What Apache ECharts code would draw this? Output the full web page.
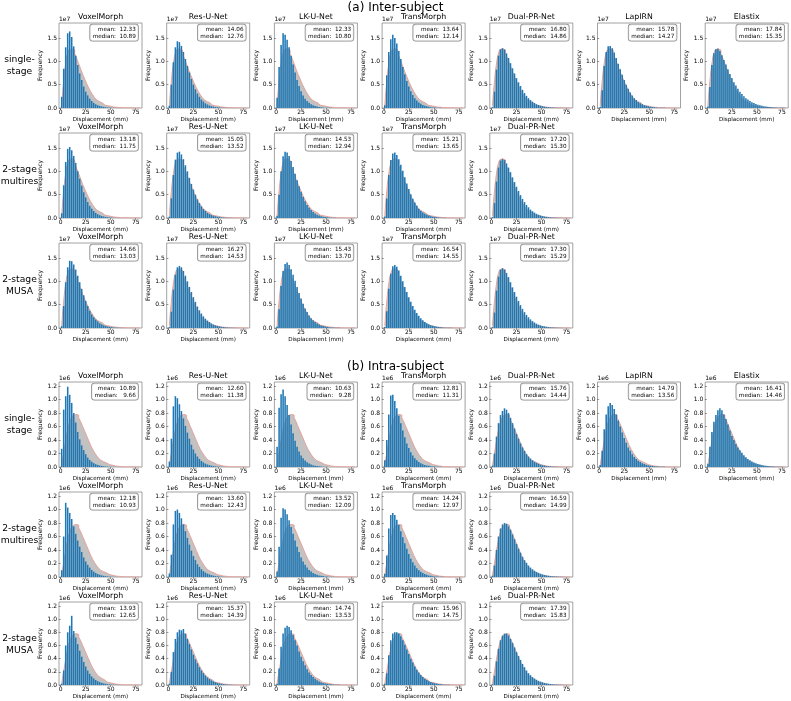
<!DOCTYPE html>
<html><head><meta charset="utf-8">
<script src="https://cdn.jsdelivr.net/npm/echarts@6/dist/echarts.min.js"></script>
<style>html,body{margin:0;padding:0;background:#fff}#c{width:791px;height:701px}</style>
</head><body><div id="c"></div><script>
// ---------------- DATA ----------------
const METHODS_SINGLE = ['VoxelMorph','Res-U-Net','LK-U-Net','TransMorph','Dual-PR-Net','LapIRN','Elastix'];
const METHODS_2STAGE = ['VoxelMorph','Res-U-Net','LK-U-Net','TransMorph','Dual-PR-Net'];
const ROW_LABELS = ['single-\nstage','2-stage\nmultires','2-stage\nMUSA'];
const SECTION_TITLES = ['(a) Inter-subject','(b) Intra-subject'];
const BIN_CENTERS = [1,3,5,7,9,11,13,15,17,19,21,23,25,27,29,31,33,35,37,39,41,43,45,47,49,51,53,55,57,59,61,63,65,67,69,71,73,75,77,79];
const X_TICKS = [0,25,50,75];
const INTER_Y_TICKS = [0,0.5,1.0,1.5];
const INTRA_Y_TICKS = [0,0.2,0.4,0.6,0.8,1.0,1.2];

// stats
const interSingleMean   = [12.33,14.06,12.33,13.64,16.80,15.78,17.84];
const interSingleMedian = [10.89,12.76,10.80,12.14,14.86,14.27,15.35];
const interMultiresMean   = [13.18,15.05,14.53,15.21,17.20];
const interMultiresMedian = [11.75,13.52,12.94,13.65,15.30];
const interMusaMean   = [14.66,16.27,15.43,16.54,17.30];
const interMusaMedian = [13.03,14.53,13.70,14.55,15.29];
const intraSingleMean   = [10.89,12.60,10.63,12.81,15.76,14.79,16.41];
const intraSingleMedian = [9.66,11.38,9.28,11.31,14.44,13.56,14.46];
const intraMultiresMean   = [12.18,13.60,13.52,14.24,16.59];
const intraMultiresMedian = [10.93,12.43,12.09,12.97,14.99];
const intraMusaMean   = [13.93,15.37,14.74,15.96,17.39];
const intraMusaMedian = [12.65,14.39,13.53,14.75,15.83];

// reference (grey) histograms, units 1e7 / 1e6
const interReference = [0.05,0.35,0.8,1.1,1.24,1.27,1.24,1.16,1.06,0.95,0.83,0.72,0.62,0.52,0.43,0.35,0.28,0.22,0.17,0.135,0.105,0.08,0.062,0.048,0.037,0.028,0.021,0.016,0.012,0.009,0.007,0.005,0.004,0.003,0.002,0.0015,0.001,0.0007,0.0005,0.0003];
const intraReference = [0.02,0.12,0.3,0.48,0.62,0.71,0.76,0.78,0.77,0.73,0.67,0.6,0.53,0.46,0.39,0.32,0.26,0.21,0.165,0.13,0.1,0.078,0.06,0.046,0.035,0.026,0.019,0.014,0.01,0.007,0.005,0.0035,0.0025,0.0017,0.0012,0.0008,0.0005,0.0003,0.0002,0.0001];

// inter-subject, single-stage (x1e7)
const interSingleVoxelMorph = [0.24,0.84,1.3,1.6,1.64,1.52,1.32,1.12,0.92,0.74,0.6,0.46,0.35,0.27,0.2,0.15,0.11,0.08,0.06,0.045,0.033,0.024,0.017,0.012,0.008,0.006,0.004,0.003,0.002,0.0015,0.001];
const interSingleResUNet = [0.05,0.5,0.98,1.3,1.43,1.41,1.33,1.2,1.05,0.9,0.76,0.62,0.5,0.4,0.31,0.24,0.18,0.14,0.1,0.075,0.055,0.04,0.03,0.022,0.016,0.011,0.008,0.006,0.004,0.003,0.002,0.0015,0.001];
const interSingleLKUNet = [0.22,0.88,1.35,1.6,1.57,1.46,1.3,1.12,0.93,0.76,0.6,0.47,0.36,0.27,0.2,0.15,0.11,0.08,0.06,0.044,0.032,0.023,0.016,0.011,0.008,0.006,0.004,0.003,0.002,0.001];
const interSingleTransMorph = [0.06,0.7,1.2,1.47,1.57,1.5,1.38,1.22,1.05,0.88,0.72,0.58,0.46,0.36,0.28,0.21,0.16,0.12,0.09,0.066,0.048,0.035,0.025,0.018,0.013,0.009,0.006,0.004,0.003,0.002,0.001];
const interSingleDualPRNet = [0.02,0.35,0.82,1.12,1.26,1.28,1.25,1.17,1.07,0.96,0.85,0.74,0.64,0.55,0.47,0.39,0.32,0.26,0.21,0.17,0.135,0.105,0.082,0.064,0.05,0.038,0.029,0.022,0.017,0.013,0.01,0.007,0.005,0.004,0.003,0.002,0.0015,0.001,0.0007,0.0005];
const interSingleLapIRN = [0.02,0.38,0.9,1.2,1.32,1.33,1.28,1.19,1.07,0.95,0.83,0.71,0.6,0.5,0.41,0.33,0.27,0.21,0.17,0.13,0.1,0.078,0.06,0.046,0.035,0.026,0.02,0.015,0.011,0.008,0.006,0.004,0.003,0.002,0.0015,0.001];
const interSingleElastix = [0.03,0.45,0.92,1.17,1.26,1.27,1.22,1.13,1.03,0.93,0.83,0.73,0.64,0.55,0.48,0.41,0.35,0.3,0.25,0.21,0.18,0.15,0.125,0.105,0.087,0.072,0.06,0.049,0.04,0.033,0.027,0.021,0.017,0.013,0.01,0.008,0.006,0.004,0.003,0.002];
// inter-subject, 2-stage multires
const interMultiresVoxelMorph = [0.1,0.7,1.2,1.48,1.52,1.45,1.33,1.18,1.0,0.84,0.69,0.55,0.44,0.34,0.26,0.2,0.15,0.11,0.08,0.06,0.044,0.032,0.023,0.016,0.011,0.008,0.005,0.003,0.002,0.001];
const interMultiresResUNet = [0.03,0.42,0.92,1.25,1.4,1.42,1.36,1.26,1.13,1.0,0.86,0.73,0.61,0.5,0.4,0.32,0.25,0.19,0.15,0.11,0.085,0.064,0.048,0.036,0.027,0.02,0.014,0.01,0.007,0.005,0.003,0.002,0.001];
const interMultiresLKUNet = [0.05,0.5,1.0,1.32,1.42,1.4,1.33,1.22,1.09,0.95,0.81,0.68,0.56,0.45,0.36,0.28,0.22,0.17,0.13,0.095,0.07,0.052,0.038,0.028,0.02,0.014,0.01,0.007,0.005,0.003,0.002,0.001];
const interMultiresTransMorph = [0.03,0.42,0.92,1.24,1.38,1.4,1.35,1.26,1.14,1.01,0.87,0.74,0.62,0.51,0.41,0.33,0.26,0.2,0.155,0.12,0.09,0.068,0.051,0.038,0.028,0.02,0.015,0.011,0.008,0.005,0.003,0.002,0.001];
const interMultiresDualPRNet = [0.02,0.32,0.78,1.08,1.23,1.26,1.24,1.17,1.08,0.98,0.87,0.77,0.67,0.58,0.49,0.41,0.34,0.28,0.23,0.18,0.145,0.115,0.09,0.07,0.054,0.042,0.032,0.024,0.018,0.014,0.01,0.008,0.006,0.004,0.003,0.002,0.0015,0.001,0.0007,0.0005];
// inter-subject, 2-stage MUSA
const interMusaVoxelMorph = [0.04,0.47,0.98,1.3,1.44,1.43,1.36,1.25,1.12,0.98,0.84,0.7,0.58,0.47,0.37,0.29,0.23,0.18,0.14,0.1,0.078,0.058,0.043,0.032,0.023,0.017,0.012,0.009,0.006,0.004,0.003,0.002,0.001];
const interMusaResUNet = [0.02,0.35,0.82,1.14,1.3,1.33,1.3,1.22,1.12,1.0,0.88,0.77,0.66,0.56,0.46,0.38,0.31,0.25,0.2,0.16,0.125,0.097,0.075,0.058,0.044,0.033,0.025,0.019,0.014,0.01,0.007,0.005,0.004,0.003,0.002,0.001];
const interMusaLKUNet = [0.03,0.4,0.9,1.22,1.37,1.4,1.35,1.26,1.14,1.01,0.88,0.75,0.63,0.52,0.42,0.34,0.27,0.21,0.165,0.128,0.098,0.074,0.056,0.042,0.031,0.023,0.017,0.012,0.009,0.006,0.004,0.003,0.002,0.001];
const interMusaTransMorph = [0.02,0.36,0.84,1.16,1.32,1.35,1.31,1.23,1.12,1.0,0.88,0.77,0.66,0.56,0.47,0.39,0.32,0.26,0.21,0.165,0.13,0.1,0.078,0.06,0.046,0.035,0.026,0.02,0.015,0.011,0.008,0.006,0.004,0.003,0.002,0.001];
const interMusaDualPRNet = [0.02,0.33,0.8,1.1,1.25,1.28,1.25,1.18,1.09,0.98,0.87,0.77,0.67,0.58,0.49,0.41,0.34,0.28,0.23,0.185,0.148,0.117,0.092,0.072,0.056,0.043,0.033,0.025,0.019,0.014,0.011,0.008,0.006,0.004,0.003,0.002,0.0015,0.001,0.0007,0.0005];

// intra-subject, single-stage (x1e6)
const intraSingleVoxelMorph = [0.27,0.85,1.05,1.19,1.07,0.95,0.8,0.66,0.52,0.41,0.32,0.25,0.19,0.14,0.105,0.078,0.057,0.042,0.031,0.022,0.016,0.011,0.008,0.006,0.004,0.003,0.002,0.001];
const intraSingleResUNet = [0.08,0.42,0.9,1.05,1.02,0.93,0.83,0.72,0.61,0.51,0.42,0.33,0.26,0.2,0.155,0.12,0.09,0.068,0.05,0.037,0.027,0.02,0.014,0.01,0.007,0.005,0.003,0.002,0.001];
const intraSingleLKUNet = [0.3,0.88,1.08,1.15,1.05,0.92,0.77,0.63,0.5,0.39,0.3,0.23,0.17,0.13,0.095,0.07,0.051,0.037,0.027,0.019,0.014,0.01,0.007,0.005,0.003,0.002,0.001];
const intraSingleTransMorph = [0.1,0.4,0.78,1.06,1.07,0.98,0.87,0.76,0.65,0.54,0.44,0.35,0.28,0.22,0.17,0.13,0.1,0.075,0.056,0.042,0.031,0.023,0.017,0.012,0.009,0.006,0.004,0.003,0.002,0.001];
const intraSingleDualPRNet = [0.02,0.2,0.45,0.65,0.77,0.83,0.87,0.85,0.8,0.73,0.65,0.57,0.49,0.42,0.35,0.29,0.24,0.19,0.155,0.125,0.1,0.078,0.06,0.047,0.036,0.027,0.02,0.015,0.011,0.008,0.006,0.004,0.003,0.002,0.001];
const intraSingleLapIRN = [0.03,0.24,0.56,0.78,0.9,0.95,0.92,0.86,0.78,0.69,0.6,0.51,0.43,0.36,0.29,0.24,0.19,0.15,0.12,0.094,0.073,0.057,0.044,0.034,0.026,0.02,0.015,0.011,0.008,0.006,0.004,0.003,0.002,0.001];
const intraSingleElastix = [0.05,0.3,0.52,0.67,0.77,0.84,0.87,0.84,0.78,0.71,0.63,0.54,0.46,0.4,0.34,0.29,0.25,0.21,0.175,0.145,0.12,0.1,0.083,0.068,0.056,0.045,0.036,0.029,0.023,0.018,0.014,0.011,0.009,0.007,0.005,0.004,0.003,0.002,0.001,0.001];
// intra-subject, 2-stage multires
const intraMultiresVoxelMorph = [0.1,0.6,1.1,1.03,0.95,0.86,0.75,0.64,0.54,0.45,0.37,0.29,0.23,0.18,0.14,0.105,0.08,0.06,0.045,0.033,0.024,0.017,0.012,0.009,0.006,0.004,0.003,0.002,0.001];
const intraMultiresResUNet = [0.05,0.33,0.78,0.98,1.0,0.95,0.87,0.78,0.68,0.58,0.48,0.39,0.31,0.25,0.19,0.15,0.115,0.087,0.066,0.05,0.037,0.027,0.02,0.014,0.01,0.007,0.005,0.003,0.002,0.001];
const intraMultiresLKUNet = [0.08,0.45,0.88,1.02,1.0,0.93,0.84,0.74,0.64,0.54,0.45,0.37,0.29,0.23,0.18,0.14,0.105,0.08,0.06,0.045,0.033,0.024,0.018,0.013,0.009,0.006,0.004,0.003,0.002,0.001];
const intraMultiresTransMorph = [0.05,0.32,0.72,0.92,0.95,0.92,0.85,0.77,0.68,0.59,0.5,0.42,0.34,0.27,0.22,0.17,0.13,0.1,0.077,0.058,0.043,0.032,0.024,0.017,0.012,0.009,0.006,0.004,0.003,0.002,0.001];
const intraMultiresDualPRNet = [0.02,0.17,0.4,0.6,0.72,0.78,0.8,0.79,0.75,0.7,0.63,0.56,0.49,0.42,0.36,0.3,0.25,0.21,0.17,0.14,0.115,0.093,0.075,0.06,0.048,0.038,0.03,0.023,0.018,0.014,0.01,0.008,0.006,0.004,0.003,0.002,0.001];
// intra-subject, 2-stage MUSA
const intraMusaVoxelMorph = [0.02,0.22,0.6,0.8,0.9,1.05,0.82,0.72,0.62,0.52,0.43,0.35,0.28,0.22,0.17,0.13,0.1,0.076,0.058,0.044,0.033,0.025,0.018,0.013,0.009,0.006,0.004,0.003,0.002,0.001];
const intraMusaResUNet = [0.02,0.2,0.5,0.7,0.8,0.84,0.83,0.85,0.78,0.7,0.62,0.54,0.46,0.39,0.33,0.27,0.22,0.18,0.145,0.115,0.09,0.07,0.055,0.042,0.032,0.024,0.018,0.013,0.01,0.007,0.005,0.003,0.002,0.001];
const intraMusaLKUNet = [0.02,0.25,0.58,0.78,0.87,0.9,0.88,0.83,0.76,0.68,0.6,0.51,0.43,0.36,0.3,0.24,0.19,0.15,0.12,0.093,0.072,0.055,0.042,0.032,0.024,0.018,0.013,0.01,0.007,0.005,0.003,0.002,0.001];
const intraMusaTransMorph = [0.02,0.18,0.45,0.68,0.78,0.8,0.8,0.78,0.74,0.68,0.61,0.54,0.47,0.4,0.34,0.28,0.23,0.19,0.15,0.12,0.095,0.075,0.058,0.045,0.034,0.026,0.019,0.014,0.01,0.007,0.005,0.003,0.002,0.001];
const intraMusaDualPRNet = [0.01,0.14,0.36,0.55,0.68,0.75,0.78,0.78,0.75,0.7,0.64,0.57,0.5,0.44,0.38,0.32,0.27,0.22,0.18,0.15,0.12,0.098,0.079,0.064,0.051,0.041,0.032,0.025,0.019,0.015,0.011,0.008,0.006,0.004,0.003,0.002,0.001];

// ---------------- LAYOUT ----------------
const FONT = 'DejaVu Sans';
const COL_LEFT0 = 59, COL_STEP = 107.7, PW = 83, PH = 85;
const sections = [
  { title: SECTION_TITLES[0], titleY: 8, tops: [23, 133, 243], ymax: 1.82, yTicks: INTER_Y_TICKS, offset: '1e7', ref: interReference,
    rows: [
      { methods: METHODS_SINGLE, hists: [interSingleVoxelMorph, interSingleResUNet, interSingleLKUNet, interSingleTransMorph, interSingleDualPRNet, interSingleLapIRN, interSingleElastix], mean: interSingleMean, median: interSingleMedian },
      { methods: METHODS_2STAGE, hists: [interMultiresVoxelMorph, interMultiresResUNet, interMultiresLKUNet, interMultiresTransMorph, interMultiresDualPRNet], mean: interMultiresMean, median: interMultiresMedian },
      { methods: METHODS_2STAGE, hists: [interMusaVoxelMorph, interMusaResUNet, interMusaLKUNet, interMusaTransMorph, interMusaDualPRNet], mean: interMusaMean, median: interMusaMedian }
    ] },
  { title: SECTION_TITLES[1], titleY: 367, tops: [382, 492, 602], ymax: 1.26, yTicks: INTRA_Y_TICKS, offset: '1e6', ref: intraReference,
    rows: [
      { methods: METHODS_SINGLE, hists: [intraSingleVoxelMorph, intraSingleResUNet, intraSingleLKUNet, intraSingleTransMorph, intraSingleDualPRNet, intraSingleLapIRN, intraSingleElastix], mean: intraSingleMean, median: intraSingleMedian },
      { methods: METHODS_2STAGE, hists: [intraMultiresVoxelMorph, intraMultiresResUNet, intraMultiresLKUNet, intraMultiresTransMorph, intraMultiresDualPRNet], mean: intraMultiresMean, median: intraMultiresMedian },
      { methods: METHODS_2STAGE, hists: [intraMusaVoxelMorph, intraMusaResUNet, intraMusaLKUNet, intraMusaTransMorph, intraMusaDualPRNet], mean: intraMusaMean, median: intraMusaMedian }
    ] }
];

const grid = [], xAxis = [], yAxis = [], series = [], graphic = [];
let idx = 0;
sections.forEach(sec => {
  graphic.push({ type: 'text', silent: true, style: { text: sec.title, x: 395.5, y: sec.titleY, align: 'center', verticalAlign: 'middle', font: '12px ' + FONT, fill: '#000' } });
  sec.rows.forEach((row, r) => {
    const top = sec.tops[r];
    graphic.push({ type: 'text', silent: true, style: { text: ROW_LABELS[r], x: 19.5, y: top + PH / 2, align: 'center', verticalAlign: 'middle', font: '9.2px ' + FONT, lineHeight: 12.5, fill: '#000' } });
    row.methods.forEach((m, c) => {
      const left = COL_LEFT0 + COL_STEP * c;
      grid.push({ left: left, top: top, width: PW, height: PH, show: true, borderColor: '#8a8a8a', borderWidth: 0.8, backgroundColor: '#fff', containLabel: false });
      xAxis.push({ type: 'value', gridIndex: idx, min: -1.7, max: 81.3,
        name: 'Displacement (mm)', nameLocation: 'middle', nameGap: 9,
        nameTextStyle: { fontFamily: FONT, fontSize: 5.6, color: '#000' },
        axisLine: { show: false }, splitLine: { show: false },
        axisTick: { show: true, length: 2, customValues: X_TICKS, lineStyle: { color: '#555', width: 0.6 } },
        axisLabel: { show: true, margin: 1.5, customValues: X_TICKS, fontFamily: FONT, fontSize: 6, color: '#000' } });
      yAxis.push({ type: 'value', gridIndex: idx, min: 0, max: sec.ymax,
        name: 'Frequency', nameLocation: 'middle', nameGap: 12,
        nameTextStyle: { fontFamily: FONT, fontSize: 6, color: '#000' },
        axisLine: { show: false }, splitLine: { show: false },
        axisTick: { show: true, length: 2, customValues: sec.yTicks, lineStyle: { color: '#555', width: 0.6 } },
        axisLabel: { show: true, margin: 2, customValues: sec.yTicks, fontFamily: FONT, fontSize: 6, color: '#000', formatter: v => Number(v).toFixed(1) } });
      series.push({ type: 'line', xAxisIndex: idx, yAxisIndex: idx, step: 'middle', symbol: 'none', silent: true, animation: false, z: 1,
        data: BIN_CENTERS.map((x, k) => [x, sec.ref[k] || 0]),
        lineStyle: { color: '#e7a39c', width: 1 }, areaStyle: { color: '#c2c2c2', opacity: 1 } });
      const h = row.hists[c];
      series.push({ type: 'bar', xAxisIndex: idx, yAxisIndex: idx, silent: true, animation: false, z: 3, barWidth: 1.55,
        data: BIN_CENTERS.map((x, k) => [x, h[k] || 0]),
        itemStyle: { color: '#1f77b4' } });
      graphic.push({ type: 'text', silent: true, style: { text: m, x: left + PW / 2, y: top - 6, align: 'center', verticalAlign: 'middle', font: '7.8px ' + FONT, fill: '#000' } });
      graphic.push({ type: 'text', silent: true, style: { text: sec.offset, x: left, y: top - 0.5, align: 'left', verticalAlign: 'bottom', font: '6px ' + FONT, fill: '#000' } });
      const fmt = v => v.toFixed(2).padStart(6, ' ');
      graphic.push({ type: 'text', silent: true, z: 10, style: {
        text: 'mean: ' + fmt(row.mean[c]) + '\nmedian: ' + fmt(row.median[c]),
        x: left + PW - 4, y: top + 1.6, align: 'right', verticalAlign: 'top', font: '5.7px ' + FONT, lineHeight: 6.8, fill: '#000',
        backgroundColor: 'rgba(255,255,255,0.85)', borderColor: '#8a8a8a', borderWidth: 0.8, borderRadius: 2.5, padding: [1.5, 2.2, 1, 2.5] } });
      idx++;
    });
  });
});

const chart = echarts.init(document.getElementById('c'), null, { renderer: 'canvas' });
chart.setOption({ animation: false, backgroundColor: '#fff', grid, xAxis, yAxis, series, graphic });
</script></body></html>
